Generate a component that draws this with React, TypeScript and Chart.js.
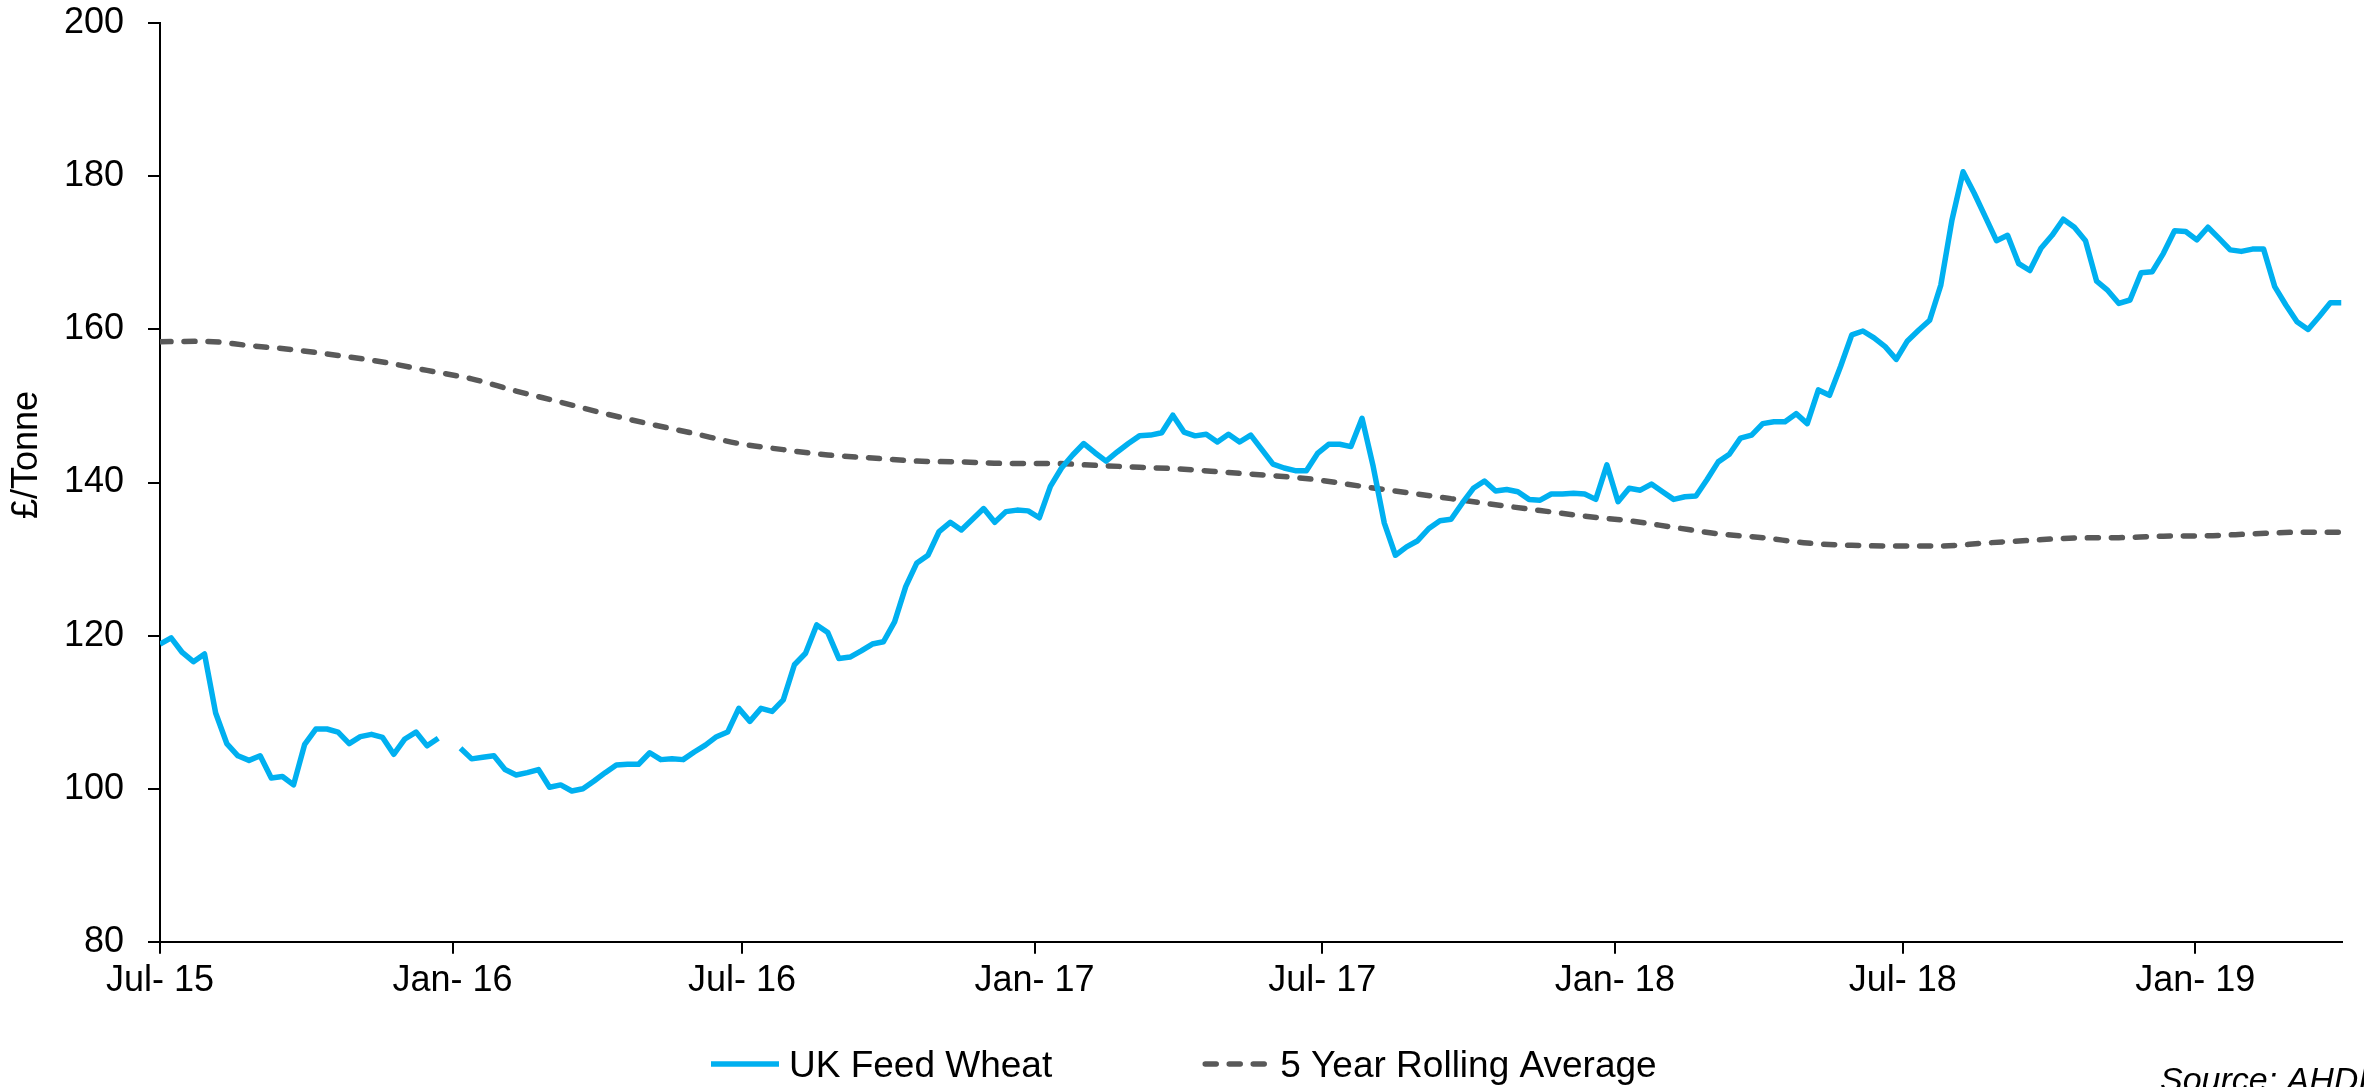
import React, { useEffect, useRef } from 'react';
import { Chart, registerables } from 'chart.js';

Chart.register(...registerables);

// ---- data ----
const START_DATE = '2015-07-01';
const WEEK_DAYS = 7;
const AVG_STEP_WEEKS = 4;

const tickDates = ['2015-07-01', '2016-01-01', '2016-07-01', '2017-01-01', '2017-07-01', '2018-01-01', '2018-07-01', '2019-01-01'];
const tickLabels = ['Jul- 15', 'Jan- 16', 'Jul- 16', 'Jan- 17', 'Jul- 17', 'Jan- 18', 'Jul- 18', 'Jan- 19'];

const seriesLabels = ['UK Feed Wheat', '5 Year Rolling Average'];
const yAxisTitle = '£/Tonne';
const sourceText = 'Source: AHDB';

// weekly UK feed wheat price (£/t), null = no quote
const wheatValues: (number | null)[] = [
  118.9, 119.7, 117.8, 116.6, 117.6, 109.9, 105.9, 104.3, 103.7, 104.3,
  101.4, 101.6, 100.5, 105.8, 107.8, 107.8, 107.4, 105.9, 106.8, 107.1,
  106.7, 104.5, 106.5, 107.4, 105.6, 106.6, null, 105.3, 103.9, 104.1,
  104.3, 102.5, 101.8, 102.1, 102.5, 100.2, 100.5, 99.7, 100.0, 101.0,
  102.1, 103.1, 103.2, 103.2, 104.7, 103.8, 103.9, 103.8, 104.8, 105.7,
  106.8, 107.4, 110.5, 108.8, 110.5, 110.1, 111.6, 116.2, 117.7, 121.4,
  120.4, 117.0, 117.2, 118.0, 118.9, 119.2, 121.8, 126.4, 129.5, 130.5,
  133.6, 134.8, 133.8, 135.2, 136.6, 134.8, 136.2, 136.4, 136.3, 135.4,
  139.5, 141.9, 143.6, 145.1, 143.9, 142.8, 144.0, 145.1, 146.1, 146.2,
  146.5, 148.8, 146.6, 146.1, 146.3, 145.3, 146.3, 145.3, 146.2, 144.3,
  142.4, 141.9, 141.55, 141.55, 143.8, 145.0, 145.0, 144.7, 148.4, 142.1,
  134.7, 130.5, 131.6, 132.4, 134.0, 135.0, 135.2, 137.3, 139.25, 140.2,
  138.9, 139.1, 138.8, 137.8, 137.7, 138.5, 138.5, 138.6, 138.5, 137.8,
  142.3, 137.5, 139.25, 139.0, 139.8, 138.8, 137.8, 138.15, 138.25, 140.4,
  142.7, 143.7, 145.8, 146.2, 147.7, 147.95, 147.95, 149.0, 147.7, 152.1,
  151.4, 155.2, 159.3, 159.8, 158.9, 157.75, 156.1, 158.5, 159.9, 161.2,
  165.8, 174.3, 180.6, 177.8, 174.7, 171.6, 172.3, 168.6, 167.7, 170.6,
  172.3, 174.4, 173.35, 171.6, 166.3, 165.1, 163.4, 163.85, 167.4, 167.55,
  169.95, 172.9, 172.8, 171.7, 173.35, 171.9, 170.4, 170.2, 170.5, 170.5,
  165.6, 163.2, 161.0, 160.0, 161.7, 163.5, 163.5,
];

// 5 year rolling average, sampled every 4 weeks
const avgValues: number[] = [
  158.4, 158.45, 157.9, 157.35, 156.6, 155.75, 154.65, 153.55, 151.95, 150.5,
  149.0, 147.65, 146.4, 145.1, 144.3, 143.6, 143.2, 142.8, 142.7, 142.5,
  142.5, 142.25, 142.0, 141.75, 141.3, 140.9, 140.35, 139.5, 138.7, 137.9,
  137.1, 136.35, 135.6, 135.0, 134.15, 133.3, 132.8, 132.1, 131.8, 131.7,
  131.7, 132.1, 132.45, 132.75, 132.8, 133.0, 133.05, 133.3, 133.5, 133.5,
];

const FONT = '"Liberation Sans", Arial, Helvetica, sans-serif';
const dayOf = (iso: string) => (Date.parse(iso) - Date.parse(START_DATE)) / 86400000;

const extrasPlugin = {
  id: 'extras',
  afterDraw(chart: any) {
    const ctx: CanvasRenderingContext2D = chart.ctx;
    ctx.save();
    // y axis title
    ctx.fillStyle = '#000';
    ctx.font = `36px ${FONT}`;
    ctx.save();
    ctx.translate(27, 455);
    ctx.rotate(-Math.PI / 2);
    ctx.textAlign = 'center';
    ctx.textBaseline = 'middle';
    ctx.fillText(yAxisTitle, 0, 0);
    ctx.restore();

    // legend
    const legendY = 1064;
    const sampleW = 68;
    const sampleGap = 10;
    const itemGap = 150;
    let x = 711;
    chart.data.datasets.forEach((ds: any) => {
      ctx.save();
      ctx.strokeStyle = ds.borderColor;
      ctx.lineWidth = ds.borderWidth;
      const dashed = ds.borderDash && ds.borderDash.length;
      ctx.lineCap = dashed ? 'round' : 'butt';
      ctx.setLineDash(ds.borderDash || []);
      ctx.beginPath();
      ctx.moveTo(x + (dashed ? 3 : 0), legendY);
      ctx.lineTo(x + sampleW, legendY);
      ctx.stroke();
      ctx.restore();
      x += sampleW + sampleGap;
      ctx.font = `37px ${FONT}`;
      ctx.textAlign = 'left';
      ctx.textBaseline = 'alphabetic';
      ctx.fillStyle = '#000';
      ctx.fillText(ds.label, x, legendY + 13);
      x += ctx.measureText(ds.label).width + itemGap;
    });

    // source
    ctx.font = `italic 34px ${FONT}`;
    ctx.fillStyle = '#000';
    ctx.textAlign = 'left';
    ctx.textBaseline = 'alphabetic';
    ctx.fillText(sourceText, 2160, 1091);
    ctx.restore();
  },
};

export default function App() {
  const canvasRef = useRef<HTMLCanvasElement | null>(null);

  useEffect(() => {
    if (!canvasRef.current) return;
    const tickDays = tickDates.map(dayOf);
    const wheatPoints = wheatValues.map((v, i) => ({ x: i * WEEK_DAYS, y: v }));
    const avgPoints = avgValues.map((v, i) => ({ x: i * WEEK_DAYS * AVG_STEP_WEEKS, y: v }));
    const maxDay = (wheatValues.length - 1) * WEEK_DAYS;

    const chart = new Chart(canvasRef.current, {
      type: 'line',
      data: {
        datasets: [
          {
            label: seriesLabels[0],
            data: wheatPoints as any,
            borderColor: '#00B0F0',
            backgroundColor: '#00B0F0',
            borderWidth: 5.5,
            pointRadius: 0,
            tension: 0,
            spanGaps: false,
            borderJoinStyle: 'round',
          },
          {
            label: seriesLabels[1],
            data: avgPoints as any,
            borderColor: '#595959',
            backgroundColor: '#595959',
            borderWidth: 5.5,
            borderDash: [11, 13],
            borderCapStyle: 'round',
            pointRadius: 0,
            cubicInterpolationMode: 'monotone',
          },
        ],
      },
      options: {
        responsive: false,
        animation: false,
        devicePixelRatio: 1,
        layout: { padding: { top: 23.3, right: 22.5, left: 0, bottom: 0 } },
        plugins: {
          legend: { display: false },
          tooltip: { enabled: false },
        },
        scales: {
          x: {
            type: 'linear',
            min: 0,
            max: maxDay,
            afterFit: (scale: any) => {
              scale.height = 1087 - 941.8;
              scale.paddingLeft = 0;
              scale.paddingRight = 0;
            },
            afterBuildTicks: (scale: any) => { scale.ticks = tickDays.map((v) => ({ value: v })); },
            ticks: {
              autoSkip: false,
              maxRotation: 0,
              padding: 6,
              color: '#000',
              font: { family: FONT, size: 36 },
              callback: (value: any) => {
                const i = tickDays.indexOf(Number(value));
                return i >= 0 ? tickLabels[i] : '';
              },
            },
            grid: { display: true, drawOnChartArea: false, drawTicks: true, tickLength: 12, color: '#000', lineWidth: 2 },
            border: { display: true, color: '#000', width: 2 },
          },
          y: {
            type: 'linear',
            min: 80,
            max: 200,
            afterFit: (scale: any) => {
              scale.width = 160;
              scale.paddingTop = 0;
              scale.paddingBottom = 0;
            },
            ticks: {
              stepSize: 20,
              padding: 24,
              color: '#000',
              font: { family: FONT, size: 36 },
            },
            grid: { display: true, drawOnChartArea: false, drawTicks: true, tickLength: 12, color: '#000', lineWidth: 2 },
            border: { display: true, color: '#000', width: 2 },
          },
        },
      },
      plugins: [extrasPlugin],
    });
    return () => chart.destroy();
  }, []);

  return (
    <div style={{ position: 'fixed', left: 0, top: 0, width: 2364, height: 1087, background: '#fff' }}>
      <canvas ref={canvasRef} width={2364} height={1087} style={{ width: 2364, height: 1087, display: 'block' }} />
    </div>
  );
}
